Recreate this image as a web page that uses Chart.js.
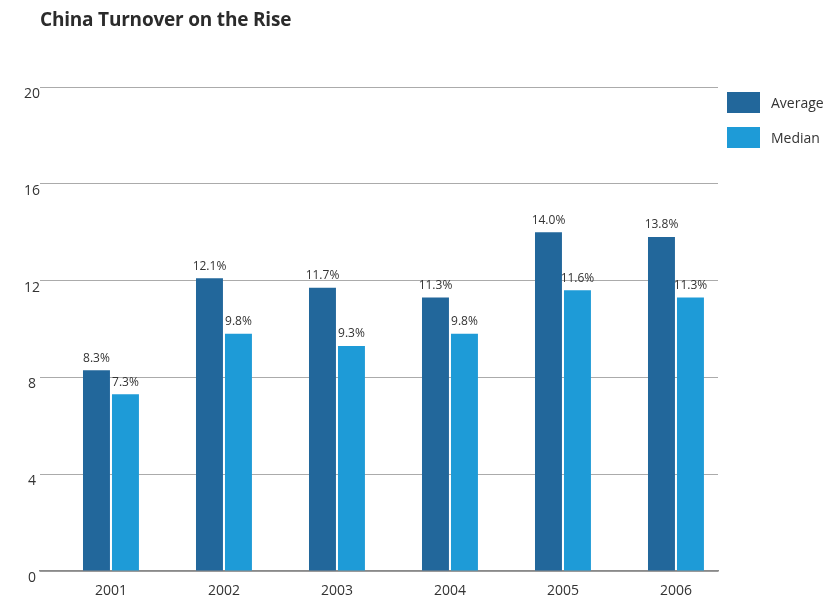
<!DOCTYPE html>
<html>
<head>
<meta charset="utf-8">
<title>China Turnover on the Rise</title>
<script src="https://cdn.jsdelivr.net/npm/chart.js@4.4.1/dist/chart.umd.min.js"></script>
<style>
  html, body { margin: 0; padding: 0; background: #fff; }
  #wrap { position: relative; width: 825px; height: 598px; overflow: hidden; font-family: "Open Sans", sans-serif; color: #333; }
  #title { position: absolute; left: 40px; top: 6px; margin: 0; font-size: 19px; font-weight: 700; color: #2b2b2b; letter-spacing: -0.2px; }
  #legend { position: absolute; left: 727px; top: 92px; }
  .item { display: flex; align-items: center; height: 21px; margin-bottom: 14px; font-size: 14px; white-space: nowrap; }
  .swatch { width: 33px; height: 21px; margin-right: 11px; }
  canvas { position: absolute; left: 0; top: 0; }
</style>
</head>
<body>
<div id="wrap">
  <canvas id="chart" width="825" height="598"></canvas>
  <h1 id="title">China Turnover on the Rise</h1>
  <div id="legend"></div>
</div>
<script>
// Turnover by year, in percent
const years = ['2001', '2002', '2003', '2004', '2005', '2006'];
const averageValues = [8.3, 12.1, 11.7, 11.3, 14.0, 13.8];
const medianValues = [7.3, 9.8, 9.3, 9.8, 11.6, 11.3];
const yTicks = [0, 4, 8, 12, 16, 20];

const seriesNames = ['Average', 'Median'];
const seriesColors = ['#22679b', '#1e9bd7'];

// build legend entries
const legend = document.getElementById('legend');
seriesNames.forEach((name, i) => {
    const item = document.createElement('div');
    item.className = 'item';
    item.innerHTML = `<span class="swatch" style="background:${seriesColors[i]}"></span>${name}`;
    legend.appendChild(item);
});

// percent labels above every bar
const valueLabels = {
    id: 'valueLabels',
    afterDatasetsDraw(chart) {
        const ctx = chart.ctx;
        ctx.save();
        ctx.font = '12px "Open Sans", sans-serif';
        ctx.fillStyle = '#333';
        ctx.textAlign = 'center';
        ctx.textBaseline = 'bottom';
        chart.data.datasets.forEach((ds, di) => {
            chart.getDatasetMeta(di).data.forEach((bar, i) => {
                ctx.fillText(ds.data[i].y.toFixed(1) + '%', bar.x, bar.y - 6);
            });
        });
        ctx.restore();
    }
};

const toPoints = values => values.map((v, i) => ({ x: i, y: v }));

new Chart(document.getElementById('chart'), {
    type: 'bar',
    data: {
        datasets: [
            { label: seriesNames[0], data: toPoints(averageValues), backgroundColor: seriesColors[0] },
            { label: seriesNames[1], data: toPoints(medianValues), backgroundColor: seriesColors[1] }
        ]
    },
    options: {
        responsive: false,
        animation: false,
        devicePixelRatio: 1,
        layout: { padding: { top: 87, right: 107, left: 0, bottom: 0 } },
        barPercentage: 0.93,
        categoryPercentage: 0.513,
        plugins: {
            legend: { display: false },
            tooltip: { enabled: false }
        },
        scales: {
            x: {
                type: 'linear',
                min: -0.628,
                max: 5.372,
                offset: false,
                afterBuildTicks: scale => { scale.ticks = years.map((y, i) => ({ value: i })); },
                afterFit: scale => { scale.height = 27; },
                ticks: {
                    callback: v => years[v],
                    color: '#333',
                    font: { family: '"Open Sans", sans-serif', size: 14 },
                    padding: 4,
                    maxRotation: 0
                },
                grid: { display: false, offset: false },
                border: { display: true, color: '#8a8a8a', width: 1.5 }
            },
            y: {
                min: 0,
                max: 20,
                afterBuildTicks: scale => { scale.ticks = yTicks.map(v => ({ value: v })); },
                afterFit: scale => { scale.width = 40; },
                ticks: {
                    color: '#333',
                    crossAlign: 'center',
                    labelOffset: 7,
                    font: { family: '"Open Sans", sans-serif', size: 14 },
                    padding: 0
                },
                grid: { color: '#ababab', lineWidth: 1, drawTicks: false },
                border: { display: false }
            }
        }
    },
    plugins: [valueLabels]
});
</script>
</body>
</html>
